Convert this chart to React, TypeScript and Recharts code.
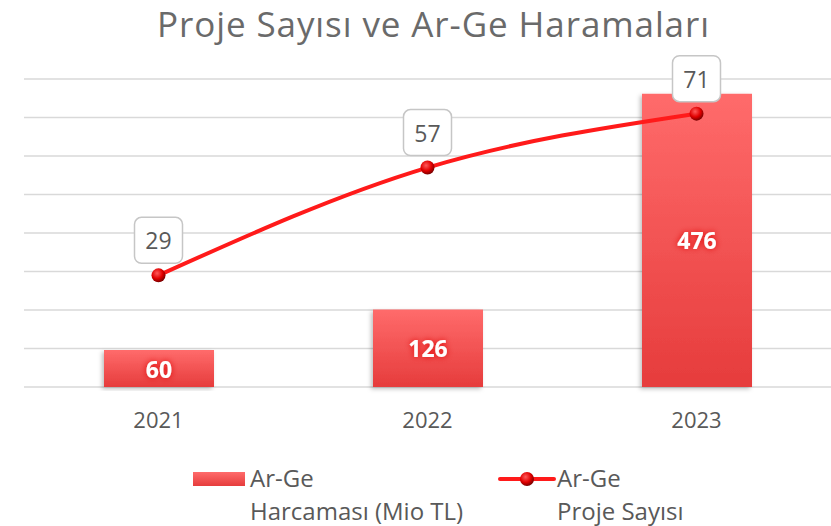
import React from "react";
import {
  Bar,
  CartesianGrid,
  ComposedChart,
  LabelList,
  Legend,
  Line,
  XAxis,
  YAxis,
} from "recharts";

const years = ["2021", "2022", "2023"];
const harcama = [60, 126, 476];
const projeSayisi = [29, 57, 71];
const countTicks = [0, 10, 20, 30, 40, 50, 60, 70, 80];

const title = "Proje Sayısı ve Ar-Ge Haramaları";
const barName = "Ar-Ge Harcaması (Mio TL)";
const lineName = "Ar-Ge Proje Sayısı";

const data = years.map((year, i) => ({
  year,
  harcama: harcama[i],
  proje: projeSayisi[i],
}));

const FONT = "'Open Sans', sans-serif";
const GRAY = "#595959";

// kırmızı küre noktası
function Ball({ cx, cy }: any) {
  if (cx == null || cy == null) return null;
  return <circle cx={cx} cy={cy} r={7} fill="url(#ballGrad)" />;
}

// değer kutusu (beyaz, yuvarlak köşeli)
function BoxLabel({ x, y, value }: any) {
  const w = 48;
  const h = 46;
  return (
    <g>
      <rect
        x={x - w / 2}
        y={y - 12 - h}
        width={w}
        height={h}
        rx={7}
        fill="#fff"
        stroke="#c6c6c6"
        strokeWidth={1.5}
      />
      <text
        x={x}
        y={y - 12 - h / 2}
        textAnchor="middle"
        dominantBaseline="central"
        fontSize={23}
        fontFamily={FONT}
        fill={GRAY}
      >
        {value}
      </text>
    </g>
  );
}

function BarValue({ x, y, width, height, value }: any) {
  return (
    <text
      x={x + width / 2}
      y={y + height / 2}
      textAnchor="middle"
      dominantBaseline="central"
      fontSize={23}
      fontWeight={700}
      fontFamily={FONT}
      fill="#fff"
      filter="url(#glow)"
    >
      {value}
    </text>
  );
}

function LegendBox() {
  const text = { fontSize: 24, color: GRAY, fontFamily: FONT, lineHeight: "33px" };
  return (
    <div style={{ position: "relative", width: 831, height: 66 }}>
      <svg width={56} height={20} style={{ position: "absolute", left: 191, top: 9 }}>
        <rect x={2} y={3} width={52} height={14} fill="url(#legendBar)" />
      </svg>
      <div style={{ position: "absolute", left: 250, top: 1, ...text }}>
        Ar-Ge
        <br />
        Harcaması (Mio TL)
      </div>
      <svg width={60} height={20} style={{ position: "absolute", left: 497, top: 9 }}>
        <line x1={3} y1={10} x2={57} y2={10} stroke="#ff1a1a" strokeWidth={4} strokeLinecap="round" />
        <circle cx={30} cy={10} r={7} fill="url(#ballGrad)" />
      </svg>
      <div style={{ position: "absolute", left: 557, top: 1, ...text }}>
        Ar-Ge
        <br />
        Proje Sayısı
      </div>
    </div>
  );
}

export default function App() {
  return (
    <div style={{ position: "absolute", left: 0, top: 0, width: 831, height: 526, background: "#fff" }}>
      <div
        style={{
          position: "absolute",
          left: 36,
          top: 0,
          width: 795,
          textAlign: "center",
          fontFamily: FONT,
          fontSize: 35,
          letterSpacing: 0.9,
          color: "#6a6a6a",
          lineHeight: "normal",
          whiteSpace: "nowrap",
        }}
      >
        {title}
      </div>
      <ComposedChart
        width={831}
        height={526}
        data={data}
        margin={{ top: 79, right: 0, left: 24, bottom: 33 }}
      >
        <defs>
          <linearGradient id="barGrad" x1="0" y1="0" x2="0" y2="1">
            <stop offset="0%" stopColor="#ff6b6b" />
            <stop offset="100%" stopColor="#e63c3c" />
          </linearGradient>
          <linearGradient id="legendBar" x1="0" y1="0" x2="0" y2="1">
            <stop offset="0%" stopColor="#ff6b6b" />
            <stop offset="100%" stopColor="#e63c3c" />
          </linearGradient>
          <radialGradient id="ballGrad" cx="40%" cy="35%" r="65%">
            <stop offset="0%" stopColor="#ff5a5a" />
            <stop offset="60%" stopColor="#e00000" />
            <stop offset="100%" stopColor="#7a0000" />
          </radialGradient>
          <filter id="barShadow" x="-10%" y="-10%" width="120%" height="120%">
            <feDropShadow dx={-2} dy={2} stdDeviation={2} floodColor="#000" floodOpacity={0.25} />
          </filter>
          <filter id="glow" x="-30%" y="-30%" width="160%" height="160%">
            <feDropShadow dx={0} dy={0} stdDeviation={3} floodColor="#e01010" floodOpacity={1} />
          </filter>
        </defs>
        <CartesianGrid
          yAxisId="count"
          vertical={false}
          stroke="#d9d9d9"
          strokeWidth={1.5}
        />
        <XAxis
          dataKey="year"
          axisLine={false}
          tickLine={false}
          tickSize={0}
          tickMargin={25}
          height={40}
          tick={{ fontSize: 22, fill: GRAY, fontFamily: FONT }}
        />
        <YAxis yAxisId="spend" domain={[0, 500]} hide />
        <YAxis
          yAxisId="count"
          orientation="right"
          domain={[0, 80]}
          ticks={countTicks}
          hide
        />
        <Legend
          verticalAlign="bottom"
          wrapperStyle={{ position: "absolute", left: 0, top: 460, width: 831 }}
          content={() => <LegendBox />}
        />
        <Bar
          yAxisId="spend"
          dataKey="harcama"
          name={barName}
          barSize={110}
          fill="url(#barGrad)"
          filter="url(#barShadow)"
          isAnimationActive={false}
        >
          <LabelList dataKey="harcama" content={<BarValue />} />
        </Bar>
        <Line
          yAxisId="count"
          type="monotone"
          dataKey="proje"
          name={lineName}
          stroke="#ff1a1a"
          strokeWidth={4}
          dot={<Ball />}
          activeDot={false}
          isAnimationActive={false}
        >
          <LabelList dataKey="proje" content={<BoxLabel />} />
        </Line>
      </ComposedChart>
    </div>
  );
}
